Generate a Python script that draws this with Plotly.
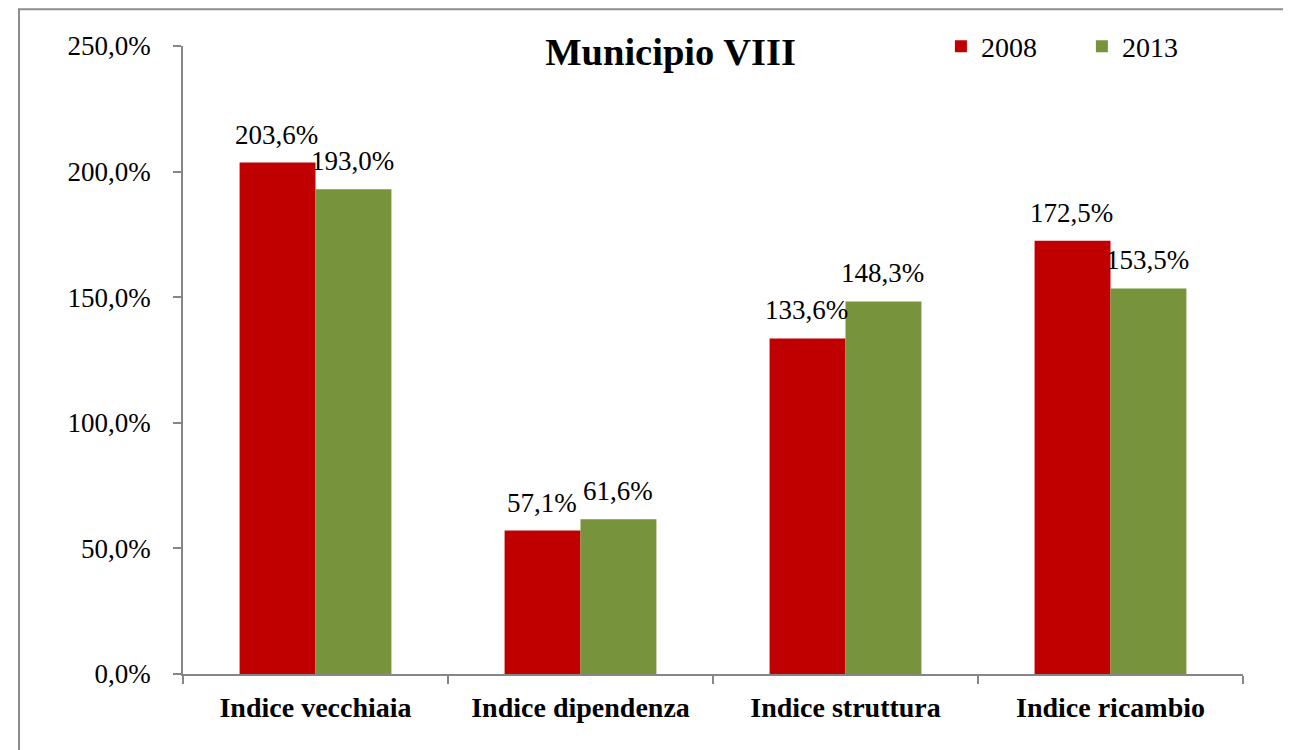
import plotly.graph_objects as go

categories = ["Indice vecchiaia", "Indice dipendenza", "Indice struttura", "Indice ricambio"]
series_names = ["2008", "2013"]
values_2008 = [203.6, 57.1, 133.6, 172.5]
values_2013 = [193.0, 61.6, 148.3, 153.5]
y_ticks = [0, 50, 100, 150, 200, 250]
chart_title = "Municipio VIII"

colors = {"2008": "#C00000", "2013": "#77933C"}
FONT = "Liberation Serif"
AXIS_COLOR = "#868686"

def fmt(v):
    return f"{v:.1f}".replace(".", ",") + "%"

W, H = 1283, 742
L, R, T, B = 175, 48, 37.5, 76
plot_w = W - L - R
plot_h = H - T - B

fig = go.Figure()
for name, vals in zip(series_names, [values_2008, values_2013]):
    fig.add_trace(go.Bar(
        x=categories, y=vals, name=name,
        marker=dict(color=colors[name], line=dict(width=0)),
    ))

annotations = []
bar_px = 76
for i, vals in enumerate([values_2008, values_2013]):
    shift = -bar_px / 2 if i == 0 else bar_px / 2
    for c, v in zip(categories, vals):
        annotations.append(dict(
            x=c, y=v, xref="x", yref="y", text=fmt(v), showarrow=False,
            xshift=shift - 1, yshift=28, yanchor="middle", xanchor="center",
            font=dict(family=FONT, size=27, color="black"),
        ))

fig.update_layout(
    width=W, height=H,
    margin=dict(l=L, r=R, t=T, b=B, autoexpand=False),
    paper_bgcolor="white", plot_bgcolor="white",
    separators=",.",
    barmode="group", bargap=0.427, bargroupgap=0,
    font=dict(family=FONT, size=27, color="black"),
    title=dict(text="<b>" + chart_title + "</b>", x=0.46, xref="paper", xanchor="center",
               y=1 - 44 / H, yref="container", yanchor="middle",
               font=dict(family=FONT, size=38.5, color="black")),
    legend=dict(orientation="h", x=0.715, y=1 - (38 - T) / plot_h,
                xanchor="left", yanchor="middle",
                font=dict(family=FONT, size=28, color="black"),
                entrywidth=96, entrywidthmode="pixels",
                bgcolor="rgba(0,0,0,0)", itemclick=False),
    annotations=annotations,
    shapes=[dict(type="rect", xref="paper", yref="paper",
                 x0=(11 - L) / plot_w, x1=1.2, y0=-0.3, y1=1 + (T - 0.8) / plot_h,
                 line=dict(color="#8C8C8C", width=2), fillcolor="rgba(0,0,0,0)", layer="below")],
)

fig.update_xaxes(
    type="category", showline=True, linecolor=AXIS_COLOR, linewidth=1.5,
    ticks="outside", tickson="boundaries", ticklen=8, tickcolor=AXIS_COLOR, tickwidth=1.5,
    showgrid=False, zeroline=False,
    tickfont=dict(family=FONT, size=28, color="black", weight="bold"),
    ticklabelstandoff=8,
)
fig.update_yaxes(
    range=[0, 250], tickvals=y_ticks, ticktext=[fmt(t) for t in y_ticks],
    showline=True, linecolor=AXIS_COLOR, linewidth=1.5,
    ticks="outside", ticklen=8, tickcolor=AXIS_COLOR, tickwidth=1.5,
    showgrid=False, zeroline=False,
    tickfont=dict(family=FONT, size=27, color="black"),
    ticklabelstandoff=17,
)

fig.write_html("out.html")
